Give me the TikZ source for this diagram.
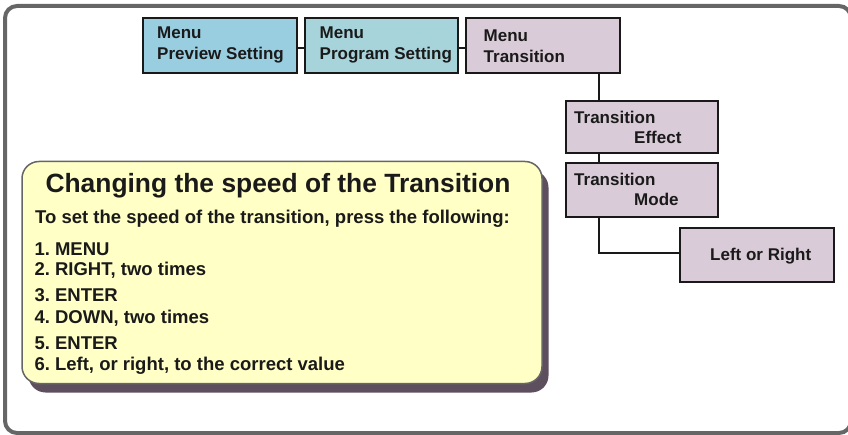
\documentclass[tikz,border=0pt]{standalone}
\usepackage{fontspec}
\setmainfont{Liberation Sans}
\frenchspacing
\usetikzlibrary{shadows}
\definecolor{framegray}{HTML}{666666}
\definecolor{prevblue}{HTML}{99CDE0}
\definecolor{progblue}{HTML}{A7D3DA}
\definecolor{translilac}{HTML}{D9CBD7}
\definecolor{infoyellow}{HTML}{FFFFC6}
\definecolor{shadowc}{HTML}{5E4F5F}
\definecolor{txt}{HTML}{1A1A1A}
\tikzset{
  menubox/.style={draw=black!90, line width=2pt, inner sep=0pt},
  boxtxt/.style={anchor=base west, inner sep=0pt, text=txt, font=\fontsize{17}{20}\selectfont\bfseries},
  conn/.style={draw=black!90, line width=2pt},
  infobox/.style={draw=framegray, line width=1.5pt, fill=infoyellow, rounded corners=17pt,
    minimum width=520pt, minimum height=222pt, inner sep=0pt,
    drop shadow={shadow xshift=6.5pt, shadow yshift=-9pt, fill=shadowc, opacity=1}},
  infotxt/.style={anchor=base west, inner sep=0pt, text=txt, font=\fontsize{18.5}{22}\selectfont\bfseries},
}
\begin{document}
\begin{tikzpicture}[x=1pt, y=-1pt]
\useasboundingbox (0,0) rectangle (848,435);
\clip (0,0) rectangle (848,435);
% outer frame
\draw[framegray, line width=4pt, rounded corners=12pt] (5,6) rectangle (851,433);

% menu boxes
\node[menubox, fill=prevblue, minimum width=154pt, minimum height=55pt] (prev) at (220,45.5) {};
\node[menubox, fill=progblue, minimum width=153pt, minimum height=55pt] (prog) at (381.5,45.5) {};
\node[menubox, fill=translilac, minimum width=154pt, minimum height=55pt] (trans) at (543,45.5) {};
\node[menubox, fill=translilac, minimum width=152pt, minimum height=52pt] (eff) at (642,127) {};
\node[menubox, fill=translilac, minimum width=152pt, minimum height=54pt] (mode) at (642,190) {};
\node[menubox, fill=translilac, minimum width=154pt, minimum height=54pt] (lr) at (757,255) {};

% box texts
\node[boxtxt] (t1a) at (157,38.5) {Menu};
\node[boxtxt] (t1b) at (157,59.5) {Preview Setting};
\node[boxtxt] (t2a) at (319.5,38.5) {Menu};
\node[boxtxt] (t2b) at (319.5,59.5) {Program Setting};
\node[boxtxt] (t3a) at (483.5,42) {Menu};
\node[boxtxt] (t3b) at (483.5,62.5) {Transition};
\node[boxtxt] (t4a) at (574,123.3) {Transition};
\node[boxtxt] (t4b) at (634,143.3) {Effect};
\node[boxtxt] (t5a) at (574,186) {Transition};
\node[boxtxt] (t5b) at (634,206) {Mode};
\node[boxtxt] (t6) at (710,260.5) {Left or Right};

% connectors
\coordinate (vx) at (599,0);
\draw[conn] ([yshift=-2.5pt]prev.east) -- ([yshift=-2.5pt]prog.west);
\draw[conn] ([yshift=-2.5pt]prog.east) -- ([yshift=-2.5pt]trans.west);
\draw[conn] (trans.south -| vx) -- (eff.north -| vx);
\draw[conn] (eff.south -| vx) -- (mode.north -| vx);
\draw[conn] (mode.south -| vx) |- ([yshift=2pt]lr.west);

% info box
\node[infobox] (info) at (282,272.5) {};
\node[anchor=base, inner sep=0pt, text=txt, font=\fontsize{26.4}{30}\selectfont\bfseries] (title) at (278,192.3) {Changing the speed of the Transition};
\node[infotxt] (sub) at (35,224) {To set the speed of the transition, press the following:};
\node[infotxt] (i1) at (34.3,255.3) {1. MENU};
\node[infotxt] (i2) at (34.3,275.7) {2. RIGHT, two times};
\node[infotxt] (i3) at (34.3,301.5) {3. ENTER};
\node[infotxt] (i4) at (34.3,323.3) {4. DOWN, two times};
\node[infotxt] (i5) at (34.3,349.3) {5. ENTER};
\node[infotxt] (i6) at (34.3,370) {6. Left, or right, to the correct value};
\end{tikzpicture}
\end{document}
